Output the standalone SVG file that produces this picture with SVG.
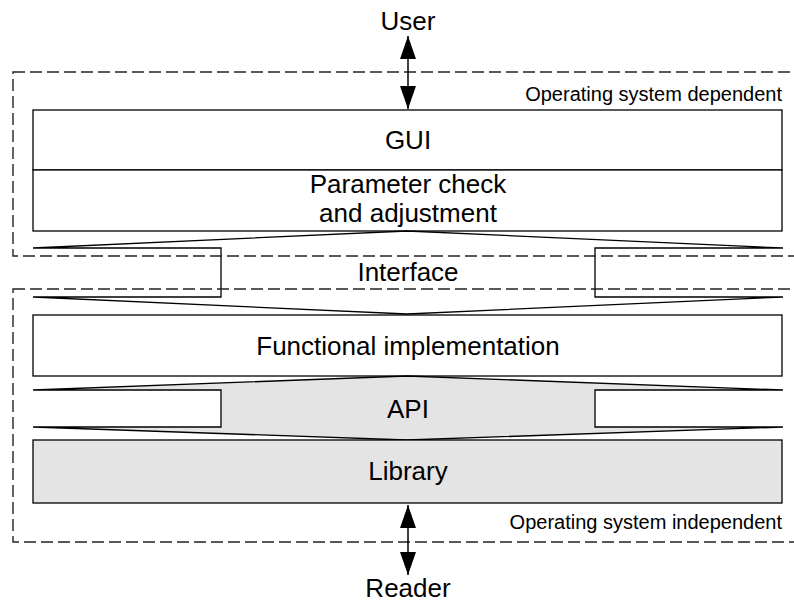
<svg xmlns="http://www.w3.org/2000/svg" width="794" height="604" viewBox="0 0 794 604">
<defs>
<marker id="ah" viewBox="0 0 23 16" refX="23" refY="8" markerWidth="23" markerHeight="16" markerUnits="userSpaceOnUse" orient="auto-start-reverse">
<path d="M0,0 L23,8 L0,16 Z" fill="#000"/>
</marker>
<style>
.box{fill:#fff;stroke:#000;stroke-width:1.3}
.gray{fill:#e4e4e4;stroke:#000;stroke-width:1.3}
.dash{fill:none;stroke:#222;stroke-width:1.4;stroke-dasharray:12 5}
.big{font-family:"Liberation Sans",Arial,sans-serif;font-size:26px;fill:#000;text-anchor:middle}
.small{font-family:"Liberation Sans",Arial,sans-serif;font-size:20px;fill:#000;text-anchor:end}
.conn{stroke:#000;stroke-width:1.5;fill:none}
</style>
</defs>
<rect width="794" height="604" fill="#fff"/>

<g id="gui"><rect class="box" x="33" y="110" width="749" height="60"/><text class="big" x="408" y="149">GUI</text></g>
<g id="param"><rect class="box" x="33" y="170" width="749" height="61"/><text class="big" x="408" y="193">Parameter check</text><text class="big" x="408" y="222">and adjustment</text></g>
<g id="interface"><polygon class="box" points="33,248 407,231 783,248 595,248 595,297 783,297 407,314 33,297 221,297 221,248"/><text class="big" x="408" y="281">Interface</text></g>
<g id="functional"><rect class="box" x="33" y="315" width="749" height="61"/><text class="big" x="408" y="355">Functional implementation</text></g>
<g id="api"><polygon class="gray" points="33,390 407,376 783,390 595,390 595,427 783,427 407,440 33,427 221,427 221,390"/><text class="big" x="408" y="418">API</text></g>
<g id="library"><rect class="gray" x="33" y="440" width="749" height="63"/><text class="big" x="408" y="480">Library</text></g>

<g id="os-dependent"><rect class="dash" x="13" y="72" width="820" height="184"/><text class="small" x="782" y="101">Operating system dependent</text></g>
<g id="os-independent"><rect class="dash" x="13" y="289" width="820" height="253"/><text class="small" x="782" y="529">Operating system independent</text></g>

<g id="user"><text class="big" x="408" y="30">User</text></g>
<g id="reader"><text class="big" x="408" y="597">Reader</text></g>

<g id="connectors">
<line class="conn" x1="408" y1="36" x2="408" y2="109" marker-start="url(#ah)" marker-end="url(#ah)"/>
<line class="conn" x1="408" y1="505" x2="408" y2="575" marker-start="url(#ah)" marker-end="url(#ah)"/>
</g>
</svg>
